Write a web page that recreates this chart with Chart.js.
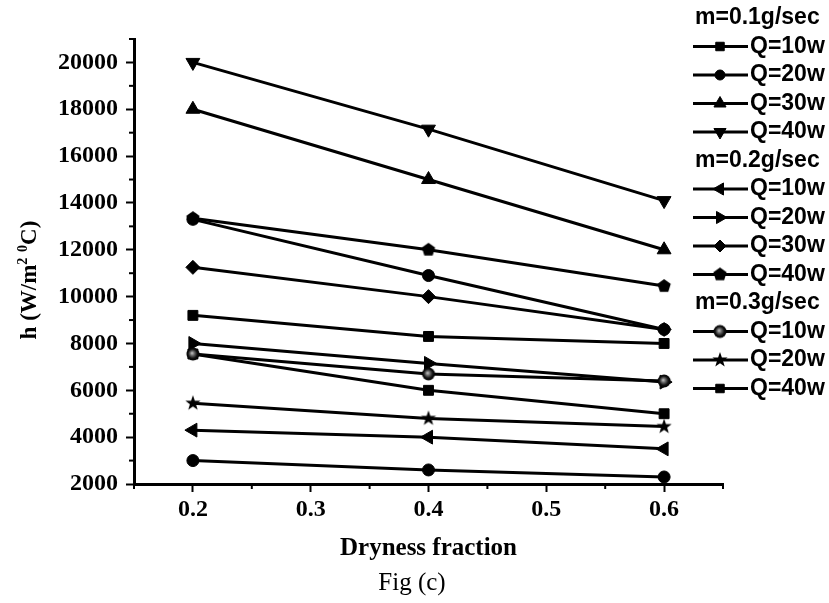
<!DOCTYPE html>
<html>
<head>
<meta charset="utf-8">
<script src="https://cdn.jsdelivr.net/npm/chart.js@4.4.0/dist/chart.umd.min.js"></script>
<style>
  html, body { margin: 0; padding: 0; background: #fff; }
</style>
</head>
<body>
<canvas id="chart" width="829" height="603"></canvas>
<script>
// values
const dryness = [0.2, 0.4, 0.6];
const xTicks = [0.2, 0.3, 0.4, 0.5, 0.6];
const xMinor = [0.15, 0.25, 0.35, 0.45, 0.55, 0.65];
const yTicks = [2000, 4000, 6000, 8000, 10000, 12000, 14000, 16000, 18000, 20000];
const yMinor = [3000, 5000, 7000, 9000, 11000, 13000, 15000, 17000, 19000, 21000];
const groupNames = ["m=0.1g/sec", "m=0.2g/sec", "m=0.3g/sec"];

const m1q10 = [9200, 8300, 8000];
const m1q20 = [13300, 10900, 8600];
const m1q30 = [18000, 15000, 12000];
const m1q40 = [20000, 17150, 14100];
const m2q10 = [4300, 4000, 3500];
const m2q20 = [8000, 7150, 6350];
const m2q30 = [11250, 10000, 8600];
const m2q40 = [13350, 12000, 10450];
const m3q10 = [7550, 6700, 6400];
const m3q20 = [5450, 4800, 4450];
const m3q40 = [7550, 6000, 5000];
const unlabelled = [3000, 2600, 2300];

// custom markers
function makeMarker(draw) {
  const c = document.createElement("canvas");
  c.width = 18; c.height = 18;
  const g = c.getContext("2d");
  draw(g, 9, 9);
  return c;
}
const pentagon = makeMarker((g, cx, cy) => {
  g.beginPath();
  for (let k = 0; k < 5; k++) {
    const a = -Math.PI / 2 + k * 2 * Math.PI / 5;
    g.lineTo(cx + Math.cos(a) * 7, cy + Math.sin(a) * 7);
  }
  g.closePath();
  g.fillStyle = "#000";
  g.fill();
});
const star = makeMarker((g, cx, cy) => {
  g.beginPath();
  for (let k = 0; k < 10; k++) {
    const a = -Math.PI / 2 + k * Math.PI / 5;
    const r = k % 2 ? 3.2 : 8;
    g.lineTo(cx + Math.cos(a) * r, cy + Math.sin(a) * r);
  }
  g.closePath();
  g.fillStyle = "#000";
  g.fill();
});
const sphere = makeMarker((g, cx, cy) => {
  const grad = g.createRadialGradient(cx - 1, cy - 1, 0, cx, cy, 6.5);
  grad.addColorStop(0, "#c8c8c8");
  grad.addColorStop(0.35, "#666");
  grad.addColorStop(0.7, "#111");
  grad.addColorStop(1, "#000");
  g.beginPath();
  g.arc(cx, cy, 6.5, 0, Math.PI * 2);
  g.fillStyle = grad;
  g.fill();
});

function series(label, group, values, style, radius, rotation, order) {
  return {
    label: label,
    group: group,
    data: dryness.map((x, i) => ({ x: x, y: values[i] })),
    borderColor: "#000",
    borderWidth: 3,
    backgroundColor: "#000",
    pointStyle: style,
    pointRadius: radius,
    pointRotation: rotation || 0,
    pointBackgroundColor: "#000",
    pointBorderColor: "#000",
    pointBorderWidth: 1,
    tension: 0,
    order: order || 0
  };
}

const datasets = [
  series("Q=10w", 0, m1q10, "rect", 7),
  series("Q=20w", 0, m1q20, "circle", 6, 0, 1),
  series("Q=30w", 0, m1q30, "triangle", 8),
  series("Q=40w", 0, m1q40, "triangle", 8, 180),
  series("Q=10w", 1, m2q10, "triangle", 8, 270),
  series("Q=20w", 1, m2q20, "triangle", 8, 90, 1),
  series("Q=30w", 1, m2q30, "rectRot", 7),
  series("Q=40w", 1, m2q40, pentagon, 7),
  series("Q=10w", 2, m3q10, sphere, 7),
  series("Q=20w", 2, m3q20, star, 7),
  series("Q=40w", 2, m3q40, "rect", 7, 0, 1),
  series("", null, unlabelled, "circle", 6)
];

const serif = "'Liberation Serif', 'Times New Roman', serif";
const sans = "'Liberation Sans', Arial, sans-serif";

// legend on the right, headers without a sample
const sideLegend = {
  id: "sideLegend",
  afterDraw(chart) {
    const ctx = chart.ctx;
    ctx.save();
    ctx.font = "bold 23px " + sans;
    ctx.textBaseline = "middle";
    ctx.fillStyle = "#000";
    ctx.strokeStyle = "#000";
    let row = 0;
    groupNames.forEach((name, g) => {
      ctx.fillText(name, 695, 18 + row * 28.5);
      row++;
      chart.data.datasets.forEach(ds => {
        if (ds.group !== g) return;
        const y = 18 + row * 28.5;
        row++;
        ctx.lineWidth = 3;
        ctx.beginPath();
        ctx.moveTo(693, y);
        ctx.lineTo(748, y);
        ctx.stroke();
        ctx.lineWidth = 1;
        if (Chart.helpers && Chart.helpers.drawPoint) {
          Chart.helpers.drawPoint(ctx, {
            pointStyle: ds.pointStyle,
            rotation: ds.pointRotation,
            radius: ds.pointRadius - 1,
            borderWidth: 1
          }, 720, y);
        }
        ctx.fillText(ds.label, 750, y);
      });
    });
    ctx.restore();
  }
};

// minor ticks, the y title with superscripts, and the figure caption
const axisExtras = {
  id: "axisExtras",
  afterDraw(chart) {
    const { ctx, chartArea, scales } = chart;
    ctx.save();
    ctx.strokeStyle = "#000";
    ctx.lineWidth = 2;
    xMinor.forEach(v => {
      const px = scales.x.getPixelForValue(v);
      ctx.beginPath();
      ctx.moveTo(px, chartArea.bottom);
      ctx.lineTo(px, chartArea.bottom + 5);
      ctx.stroke();
    });
    yMinor.forEach(v => {
      const py = scales.y.getPixelForValue(v);
      ctx.beginPath();
      ctx.moveTo(chartArea.left, py);
      ctx.lineTo(chartArea.left - 5, py);
      ctx.stroke();
    });

    ctx.fillStyle = "#000";
    ctx.textAlign = "center";
    ctx.textBaseline = "middle";
    ctx.font = "25px " + serif;
    ctx.fillText("Fig (c)", 412, 583);

    const parts = [
      ["h (W/m", false], ["2", true], [" ", false], ["0", true], ["C)", false]
    ];
    const big = "bold 23px " + serif;
    const small = "bold 14px " + serif;
    let total = 0;
    parts.forEach(p => { ctx.font = p[1] ? small : big; total += ctx.measureText(p[0]).width; });
    ctx.translate(30, 280);
    ctx.rotate(-Math.PI / 2);
    ctx.textAlign = "left";
    let x = -total / 2;
    parts.forEach(p => {
      ctx.font = p[1] ? small : big;
      ctx.fillText(p[0], x, p[1] ? -7 : 0);
      x += ctx.measureText(p[0]).width;
    });
    ctx.restore();
  }
};

new Chart(document.getElementById("chart"), {
  type: "line",
  data: { datasets: datasets },
  options: {
    responsive: false,
    animation: false,
    devicePixelRatio: 1,
    events: [],
    layout: { padding: { top: 39, right: 106, left: 0, bottom: 0 } },
    plugins: {
      legend: { display: false },
      tooltip: { enabled: false }
    },
    scales: {
      x: {
        type: "linear",
        min: 0.15,
        max: 0.65,
        afterBuildTicks: s => { s.ticks = xTicks.map(v => ({ value: v })); },
        afterFit: s => { s.height = 603 - 484; },
        ticks: {
          callback: v => v.toFixed(1),
          color: "#000",
          font: { family: serif, size: 24, weight: "bold" },
          padding: 3,
          maxRotation: 0,
          autoSkip: false
        },
        grid: { drawOnChartArea: false, color: "#000", tickColor: "#000", tickLength: 8, tickWidth: 2 },
        border: { color: "#000", width: 3 },
        title: {
          display: true,
          text: "Dryness fraction",
          color: "#000",
          font: { family: serif, size: 25, weight: "bold" },
          padding: { top: 0, bottom: 39 }
        }
      },
      y: {
        min: 2000,
        max: 21000,
        afterBuildTicks: s => { s.ticks = yTicks.map(v => ({ value: v })); },
        afterFit: s => { s.width = 134; },
        ticks: {
          callback: v => String(v),
          color: "#000",
          font: { family: serif, size: 24, weight: "bold" },
          padding: 8
        },
        grid: { drawOnChartArea: false, color: "#000", tickColor: "#000", tickLength: 8, tickWidth: 2 },
        border: { color: "#000", width: 3 }
      }
    }
  },
  plugins: [axisExtras, sideLegend]
});
</script>
</body>
</html>
